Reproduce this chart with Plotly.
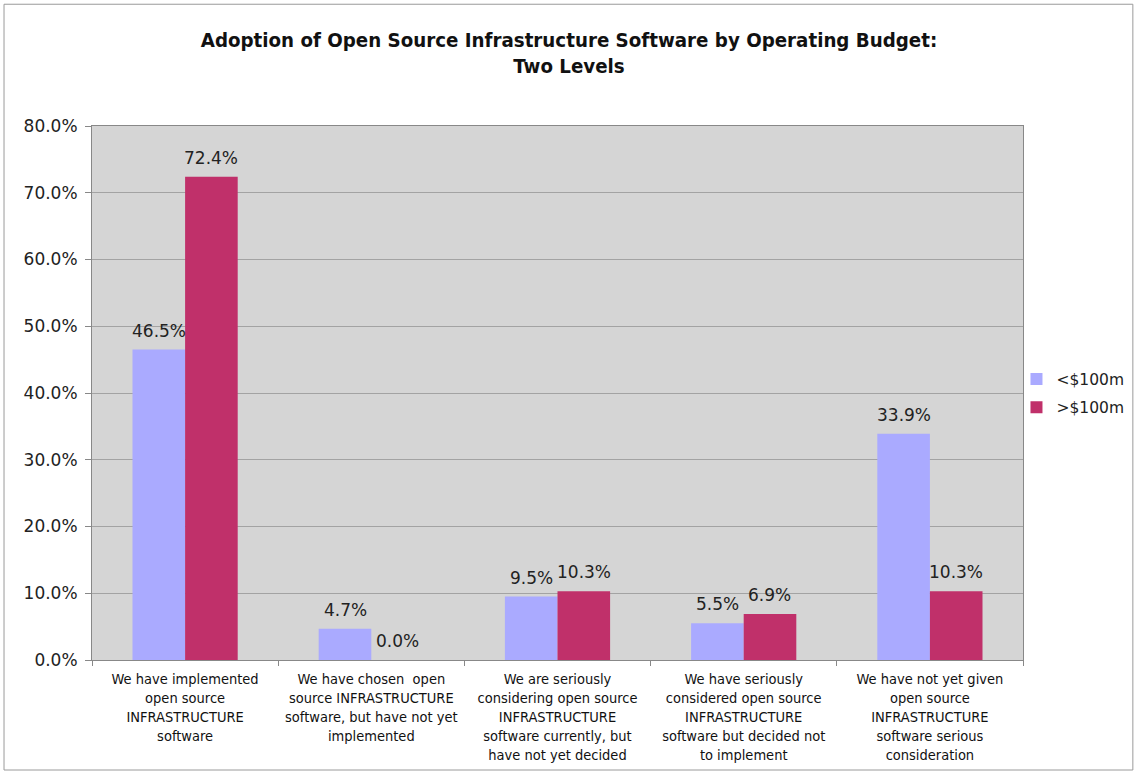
import plotly.graph_objects as go

# Survey responses grouped by operating budget
categories = [
    "We have implemented<br>open source<br>INFRASTRUCTURE<br>software",
    "We have chosen  open<br>source INFRASTRUCTURE<br>software, but have not yet<br>implemented",
    "We are seriously<br>considering open source<br>INFRASTRUCTURE<br>software currently, but<br>have not yet decided",
    "We have seriously<br>considered open source<br>INFRASTRUCTURE<br>software but decided not<br>to implement",
    "We have not yet given<br>open source<br>INFRASTRUCTURE<br>software serious<br>consideration",
]
under_100m = [46.5, 4.7, 9.5, 5.5, 33.9]
over_100m = [72.4, 0.0, 10.3, 6.9, 10.3]
series_names = ["<$100m", ">$100m"]
y_ticks = [0, 10, 20, 30, 40, 50, 60, 70, 80]

series = [
    (series_names[0], under_100m, "#aaaaff", -26),
    (series_names[1], over_100m, "#c0306a", 26),
]

main_font = "DejaVu Sans, Verdana, sans-serif"

fig = go.Figure()
for name, vals, color, _ in series:
    fig.add_trace(go.Bar(
        name=name,
        legendgroup=name,
        x=categories,
        y=vals,
        marker=dict(color=color, line=dict(width=0)),
        cliponaxis=False,
    ))

# Value labels above each bar
for name, vals, color, dx in series:
    for cat, v in zip(categories, vals):
        fig.add_annotation(
            x=cat, y=v, xref="x", yref="y",
            text=f"{v:.1f}%",
            showarrow=False,
            xanchor="center", yanchor="bottom",
            xshift=dx, yshift=7,
            font=dict(family=main_font, size=17, color="#222222"),
        )

fig.update_layout(
    width=1138,
    height=775,
    margin=dict(l=92, r=115, t=126, b=115, autoexpand=False),
    paper_bgcolor="white",
    plot_bgcolor="#d5d5d5",
    barmode="group",
    bargap=0.435,
    bargroupgap=0.0,
    title=dict(
        text="Adoption of Open Source Infrastructure Software by Operating Budget:<br>Two Levels",
        x=0.5,
        xanchor="center",
        y=0.94,
        yanchor="top",
        font=dict(family="DejaVu Sans Condensed, DejaVu Sans, sans-serif", size=20.3, color="#111111", weight="bold"),
    ),
    legend=dict(
        x=0.993,
        y=0.499,
        xanchor="left",
        yanchor="middle",
        font=dict(family=main_font, size=15.5, color="#222222"),
        bgcolor="rgba(0,0,0,0)",
        itemwidth=30,
        traceorder="grouped",
        tracegroupgap=5,
    ),
    showlegend=True,
)

fig.update_xaxes(
    tickfont=dict(family="Liberation Sans Narrow, DejaVu Sans Condensed, sans-serif", size=14.5, color="#111111"),
    ticks="outside",
    tickson="boundaries",
    ticklen=5,
    tickcolor="#888888",
    ticklabelstandoff=6,
    showline=True,
    linecolor="#888888",
    mirror=True,
    showgrid=False,
)
fig.update_yaxes(
    range=[0, 80],
    tickvals=y_ticks,
    ticktext=[f"{v:.1f}%" for v in y_ticks],
    tickfont=dict(family=main_font, size=17, color="#222222"),
    ticks="outside",
    ticklen=6,
    tickcolor="#888888",
    ticklabelstandoff=4,
    showline=True,
    linecolor="#888888",
    mirror=True,
    showgrid=True,
    gridcolor="#a3a3a3",
    gridwidth=1,
    zeroline=False,
)

# Outer frame around the whole chart
fig.add_shape(
    type="rect", xref="paper", yref="paper",
    x0=-0.0945, x1=1.118, y0=-0.206, y1=1.228,
    line=dict(color="#9a9a9a", width=1),
    fillcolor="rgba(0,0,0,0)",
    layer="below",
)

fig.write_html("out.html")
